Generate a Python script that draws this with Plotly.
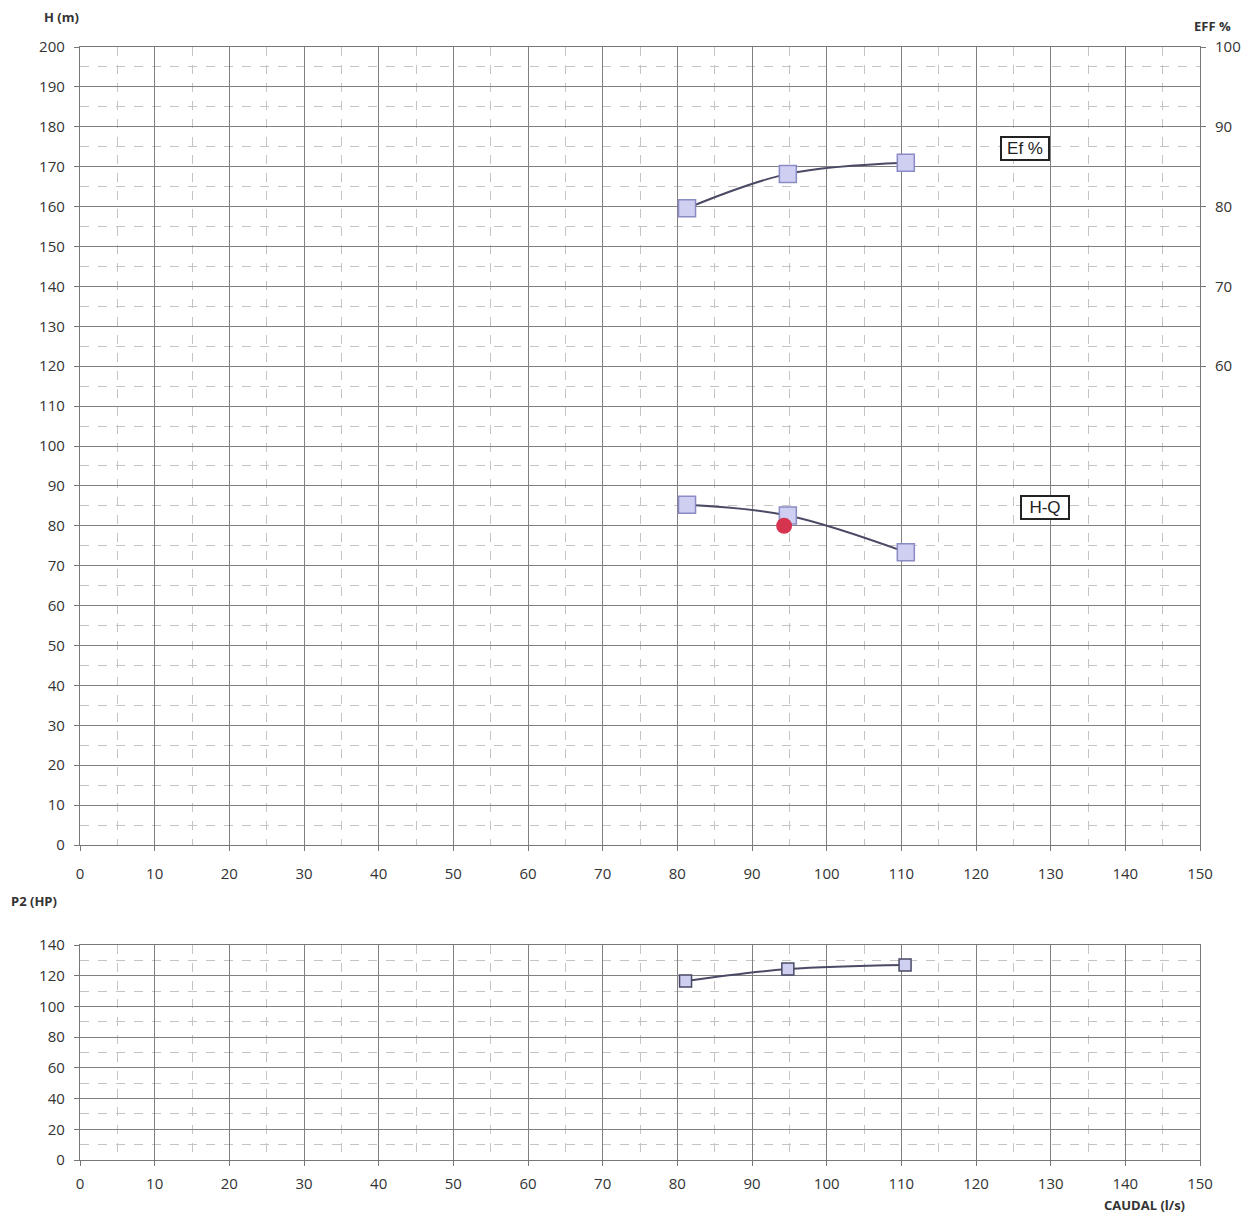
import plotly.graph_objects as go

# Data
caudal = [81.3, 94.8, 110.6]
eff = [79.8, 84.1, 85.5]
head = [85.3, 82.6, 73.4]
duty_q = [94.3]
duty_h = [80.0]
p2_caudal = [81.1, 94.8, 110.5]
p2 = [116.5, 124.3, 127.0]

x_ticks = list(range(0, 151, 10))
h_ticks = list(range(0, 201, 10))
eff_ticks = [60, 70, 80, 90, 100]
p_ticks = list(range(0, 141, 20))

OFF = 8  # page body margin
W, H = 1240, 1207
ml, mt = 80 - OFF, 47 - OFF
mr = W - (1200 - OFF)
mb = H - (1160 - OFF)
ph = H - mt - mb
pw = W - ml - mr

def yfrac(px):
    return (1160 - px) / ph

def xfrac(px):
    return (px - 80) / pw

line_col = "#4a4a66"
mk_fill = "#cfcff2"
mk_line = "#8a8ac4"
grid_major = "#808080"
grid_minor = "#c4c4c4"
txt = "#333333"

fig = go.Figure()
fig.add_trace(go.Scatter(x=caudal, y=eff, mode="lines+markers", yaxis="y3", xaxis="x",
                         line=dict(color=line_col, width=2, shape="spline"),
                         marker=dict(symbol="square", size=17, color=mk_fill, line=dict(color=mk_line, width=1.5)),
                         showlegend=False))
fig.add_trace(go.Scatter(x=caudal, y=head, mode="lines+markers", yaxis="y", xaxis="x",
                         line=dict(color=line_col, width=2, shape="spline"),
                         marker=dict(symbol="square", size=17, color=mk_fill, line=dict(color=mk_line, width=1.5)),
                         showlegend=False))
fig.add_trace(go.Scatter(x=duty_q, y=duty_h, mode="markers", yaxis="y", xaxis="x",
                         marker=dict(symbol="circle", size=16, color="#d6334f"),
                         showlegend=False))
fig.add_trace(go.Scatter(x=p2_caudal, y=p2, mode="lines+markers", yaxis="y2", xaxis="x2",
                         line=dict(color=line_col, width=2, shape="spline"),
                         marker=dict(symbol="square", size=12, color=mk_fill, line=dict(color=line_col, width=1.5)),
                         showlegend=False))

axfont = dict(family="Open Sans, DejaVu Sans", size=15, color=txt)

def xaxis_cfg(standoff):
    return dict(range=[0, 150], tickvals=x_ticks, showgrid=True, gridcolor=grid_major, gridwidth=1.4,
                minor=dict(dtick=5, showgrid=True, gridcolor=grid_minor, griddash="dash", gridwidth=1),
                zeroline=False, showline=True, linecolor="#777777", mirror=True, linewidth=1.4,
                ticks="outside", ticklen=5, tickcolor="#777777", tickfont=axfont, ticklabelstandoff=standoff,
                automargin=False)

fig.update_layout(
    width=W, height=H, paper_bgcolor="white", plot_bgcolor="white",
    margin=dict(l=ml, r=mr, t=mt, b=mb, autoexpand=False),
    xaxis=dict(domain=[0, 1], anchor="y", **xaxis_cfg(10)),
    yaxis=dict(domain=[yfrac(845), 1.0], range=[0, 200], tickvals=h_ticks, showgrid=True,
               gridcolor=grid_major, gridwidth=1.4,
               minor=dict(dtick=5, showgrid=True, gridcolor=grid_minor, griddash="dash", gridwidth=1),
               zeroline=False, showline=True, linecolor="#777777", mirror=True, linewidth=1.4,
               ticks="outside", ticklen=5, tickcolor="#777777", tickfont=axfont, ticklabelstandoff=6,
               automargin=False),
    yaxis3=dict(overlaying="y", side="right", range=[0, 100], tickvals=eff_ticks, showgrid=False,
                zeroline=False, ticks="outside", ticklen=5, tickcolor="#777777", tickfont=axfont,
                ticklabelstandoff=6, anchor="x", automargin=False),
    xaxis2=dict(domain=[0, 1], anchor="y2", **xaxis_cfg(5)),
    yaxis2=dict(domain=[0, yfrac(945)], range=[0, 140], tickvals=p_ticks, showgrid=True,
                gridcolor=grid_major, gridwidth=1.4,
                minor=dict(dtick=10, showgrid=True, gridcolor=grid_minor, griddash="dash", gridwidth=1),
                zeroline=False, showline=True, linecolor="#777777", mirror=True, linewidth=1.4,
                ticks="outside", ticklen=5, tickcolor="#777777", tickfont=axfont, ticklabelstandoff=6,
                automargin=False),
)

lblfont = dict(family="Open Sans, DejaVu Sans", size=13, color=txt)
fig.add_annotation(text="<b>H (m)</b>", xref="paper", yref="paper", x=xfrac(42), y=yfrac(17),
                   showarrow=False, font=lblfont, xanchor="left", yanchor="middle")
fig.add_annotation(text="<b>EFF %</b>", xref="paper", yref="paper", x=xfrac(1233), y=yfrac(26),
                   showarrow=False, font=lblfont, xanchor="right", yanchor="middle")
fig.add_annotation(text="<b>P2 (HP)</b>", xref="paper", yref="paper", x=xfrac(9), y=yfrac(901),
                   showarrow=False, font=lblfont, xanchor="left", yanchor="middle")
fig.add_annotation(text="<b>CAUDAL (l/s)</b>", xref="paper", yref="paper", x=xfrac(1187), y=yfrac(1216),
                   showarrow=False, font=dict(family="Open Sans, DejaVu Sans", size=13, color=txt),
                   xanchor="right", yanchor="bottom")
fig.add_annotation(text="Ef %", xref="x", yref="y", x=126.5, y=174.5, showarrow=False,
                   font=dict(family="Liberation Sans, Arial", size=17, color="#222222"),
                   bordercolor="#222222", borderwidth=2, borderpad=1, width=44, bgcolor="white")
fig.add_annotation(text="H-Q", xref="x", yref="y", x=129.3, y=84.5, showarrow=False,
                   font=dict(family="Liberation Sans, Arial", size=17, color="#222222"),
                   bordercolor="#222222", borderwidth=2, borderpad=1, width=44, bgcolor="white")

fig.write_html("out.html")
